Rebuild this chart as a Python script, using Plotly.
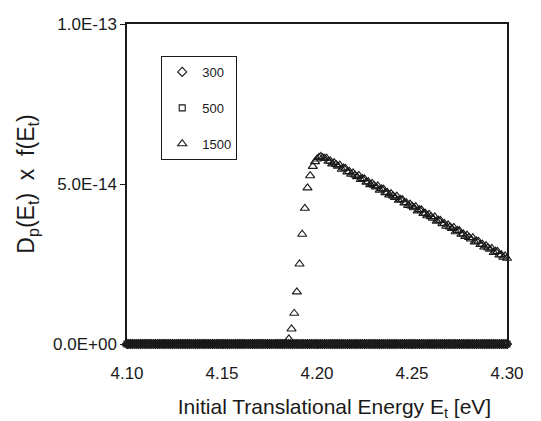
import numpy as np
import plotly.graph_objects as go

# ---- data ----
series_names = ["300", "500", "1500"]

# regular sampling grid in energy (eV)
energy_grid = np.round(np.arange(4.100, 4.3005, 0.001), 3)

# 300 K and 500 K: zero over the whole range
values_300 = [0.0] * len(energy_grid)
values_500 = [0.0] * len(energy_grid)

# 1500 K: zero before threshold, then rise, then decay
energy_1500_zero = [e for e in energy_grid if e < 4.1845]
values_1500_zero = [0.0] * len(energy_1500_zero)

energy_1500_rise = [4.1852, 4.1866, 4.1880, 4.1894, 4.1908, 4.1922, 4.1936,
                    4.1950, 4.1964, 4.1978, 4.1990]
values_1500_rise = [0.16, 0.47, 0.96, 1.63, 2.50, 3.43, 4.24,
                    4.88, 5.26, 5.55, 5.70]  # x 1e-14

energy_1500_peak = [4.200, 4.201, 4.202, 4.203, 4.204]
values_1500_peak = [5.78, 5.83, 5.86, 5.82, 5.80]  # x 1e-14

energy_1500_decay = [e for e in energy_grid if e >= 4.2045]
values_1500_decay = [
    5.81, 5.71, 5.72, 5.63, 5.67, 5.61, 5.56, 5.59, 5.46, 5.50,
    5.49, 5.38, 5.39, 5.31, 5.35, 5.28, 5.23, 5.27, 5.14, 5.17,
    5.16, 5.06, 5.07, 4.98, 5.02, 4.96, 4.91, 4.94, 4.81, 4.85,
    4.84, 4.73, 4.74, 4.66, 4.70, 4.63, 4.58, 4.62, 4.49, 4.52,
    4.51, 4.41, 4.42, 4.33, 4.37, 4.31, 4.26, 4.29, 4.16, 4.20,
    4.19, 4.08, 4.09, 4.01, 4.05, 3.98, 3.93, 3.97, 3.84, 3.87,
    3.86, 3.76, 3.77, 3.68, 3.72, 3.66, 3.61, 3.64, 3.51, 3.55,
    3.54, 3.43, 3.44, 3.36, 3.40, 3.33, 3.28, 3.32, 3.19, 3.22,
    3.21, 3.11, 3.12, 3.03, 3.07, 3.01, 2.96, 2.99, 2.86, 2.90,
    2.89, 2.78, 2.79, 2.71, 2.75, 2.68]  # x 1e-14

x_ticks = [4.10, 4.15, 4.20, 4.25, 4.30]
y_tickvals = [0.0, 5e-14, 1e-13]
y_ticktext = ["0.0E+00", "5.0E-14", "1.0E-13"]

# ---- figure ----
n_dec = min(len(energy_1500_decay), len(values_1500_decay))
energy_1500 = list(energy_1500_zero) + energy_1500_rise + energy_1500_peak + \
    list(energy_1500_decay[:n_dec])
values_1500 = values_1500_zero + [v * 1e-14 for v in values_1500_rise] + \
    [v * 1e-14 for v in values_1500_peak] + [v * 1e-14 for v in values_1500_decay[:n_dec]]

font_family = "Liberation Sans, Arial, sans-serif"
ink = "#1a1a1a"

fig = go.Figure()
fig.add_trace(go.Scatter(x=energy_grid, y=values_300, mode="markers", name=series_names[0],
                         legendgroup="a", cliponaxis=False,
                         marker=dict(symbol="diamond-open", size=7, color=ink, line=dict(width=1.1))))
fig.add_trace(go.Scatter(x=energy_grid, y=values_500, mode="markers", name=series_names[1],
                         legendgroup="b", cliponaxis=False,
                         marker=dict(symbol="square-open", size=6, color=ink, line=dict(width=1.1))))
fig.add_trace(go.Scatter(x=energy_1500, y=values_1500, mode="markers", name=series_names[2],
                         legendgroup="c", cliponaxis=False,
                         marker=dict(symbol="triangle-up-open", size=8, color=ink, line=dict(width=1.1))))

fig.update_layout(
    width=541, height=421,
    margin=dict(l=127, r=34, t=24, b=77),
    paper_bgcolor="white", plot_bgcolor="white",
    font=dict(family=font_family, color=ink, size=17),
    showlegend=True,
    legend=dict(x=0.09, y=0.9, xanchor="left", yanchor="top",
                bordercolor=ink, borderwidth=1, bgcolor="white",
                font=dict(size=13, family=font_family, color=ink),
                tracegroupgap=16, itemwidth=30),
    xaxis=dict(range=[4.10, 4.30], tickvals=x_ticks, tickformat=".2f", automargin=False,
               showgrid=False, zeroline=False, showline=True, linecolor=ink, linewidth=1.5,
               mirror=True, ticks="outside", ticklen=3, tickcolor=ink,
               tickfont=dict(size=17), ticklabelstandoff=10,
               title=dict(text="&nbsp;&nbsp;&nbsp;&nbsp;&nbsp;&nbsp;Initial Translational Energy E<sub>t</sub> [eV]",
                          font=dict(size=21), standoff=23)),
    yaxis=dict(range=[0, 1e-13], tickvals=y_tickvals, ticktext=y_ticktext, automargin=False,
               showgrid=False, zeroline=False, showline=True, linecolor=ink, linewidth=1.5,
               mirror=True, ticks="outside", ticklen=5, tickcolor=ink,
               tickfont=dict(size=17),
               title=dict(text="D<sub>p</sub>(E<sub>t</sub>)  x  f(E<sub>t</sub>)",
                          font=dict(size=23), standoff=12)),
)

fig.write_html("out.html")
